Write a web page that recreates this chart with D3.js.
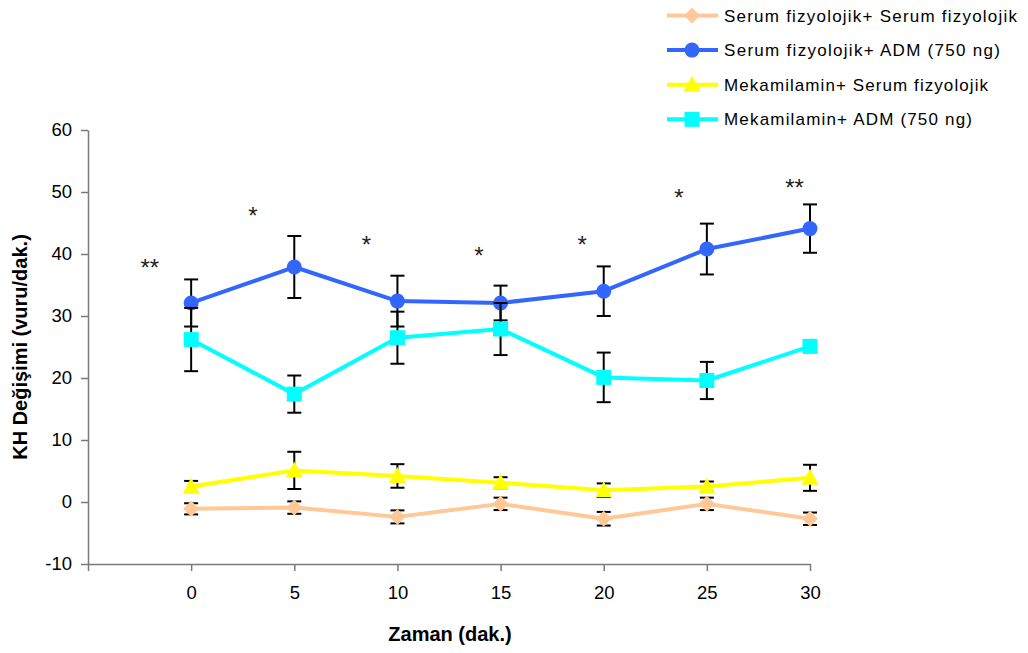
<!DOCTYPE html>
<html>
<head>
<meta charset="utf-8">
<script src="https://cdn.jsdelivr.net/npm/d3@7"></script>
<style>
  body { margin: 0; background: #fff; }
  svg { display: block; font-family: "Liberation Sans", Arial, sans-serif; }
</style>
</head>
<body>
<svg id="chart" width="1028" height="653"></svg>
<script>
// Time points (minutes)
const times = [0, 5, 10, 15, 20, 25, 30];

// Mean heart-rate change per group (beats/min) and SEM
const seriesNames = [
  "Serum fizyolojik+ Serum fizyolojik",
  "Serum fizyolojik+ ADM (750 ng)",
  "Mekamilamin+ Serum fizyolojik",
  "Mekamilamin+ ADM (750 ng)"
];
const salineSaline    = [-1.1, -0.9, -2.4, -0.3, -2.7, -0.3, -2.7];
const salineSalineErr = [0.9, 1.0, 1.05, 1.0, 1.1, 1.0, 1.0];
const salineAdm       = [32.1, 37.9, 32.4, 32.1, 34.0, 40.8, 44.1];
const salineAdmErr    = [3.8, 5.0, 4.1, 2.8, 4.0, 4.1, 3.9];
const mecaSaline      = [2.5, 5.1, 4.2, 3.1, 1.9, 2.5, 3.9];
const mecaSalineErr   = [0.9, 3.0, 1.9, 0.9, 1.1, 0.8, 2.1];
const mecaAdm         = [26.2, 17.4, 26.5, 27.9, 20.1, 19.6, 25.1];
const mecaAdmErr      = [5.1, 3.0, 4.2, 4.2, 4.0, 3.0, 0.8];

// Significance marks placed above the curves
const sigLabels = ["**", "*", "*", "*", "*", "*", "**"];
const sigX      = [-2.0, 3.0, 8.5, 13.95, 18.95, 23.65, 29.25];
const sigY      = [38.6, 46.9, 42.3, 40.5, 42.3, 49.8, 51.5];

// Axis ticks
const yTicks = [-10, 0, 10, 20, 30, 40, 50, 60];
const xTicks = [-5, 0, 5, 10, 15, 20, 25, 30];

const yTitle = "KH Değişimi (vuru/dak.)";
const xTitle = "Zaman (dak.)";

const groups = [
  { name: seriesNames[0], values: salineSaline, err: salineSalineErr, color: "#FFC896", shape: "diamond" },
  { name: seriesNames[1], values: salineAdm,    err: salineAdmErr,    color: "#3366FF", shape: "circle" },
  { name: seriesNames[2], values: mecaSaline,   err: mecaSalineErr,   color: "#FFFF00", shape: "triangle" },
  { name: seriesNames[3], values: mecaAdm,      err: mecaAdmErr,      color: "#00FFFF", shape: "square" }
];

const svg = d3.select("#chart");
const x = d3.scaleLinear().domain([-5, 30]).range([88, 810]);
const y = d3.scaleLinear().domain([-10, 60]).range([564, 130]);

const axisColor = "#7a7a7a";

// Y axis
const yAxis = svg.append("g")
  .attr("transform", `translate(${x(-5)},0)`)
  .call(d3.axisLeft(y).tickValues(yTicks).tickSize(7).tickPadding(9).tickSizeOuter(0)
    .tickFormat(d => String(d)));
yAxis.select(".domain").attr("stroke", axisColor).attr("stroke-width", 1.5);
yAxis.selectAll(".tick line").attr("stroke", axisColor).attr("stroke-width", 1.5);
yAxis.selectAll("text").attr("font-size", 18.5).attr("fill", "#000")
  .attr("font-family", "Liberation Sans, Arial, sans-serif");

// X axis along the bottom of the value range
const xAxis = svg.append("g")
  .attr("transform", `translate(0,${y(-10)})`)
  .call(d3.axisBottom(x).tickValues(xTicks).tickSize(7).tickPadding(15).tickSizeOuter(0)
    .tickFormat(d => d < 0 ? "" : String(d)));
xAxis.select(".domain").attr("stroke", axisColor).attr("stroke-width", 1.5);
xAxis.selectAll(".tick line").attr("stroke", axisColor).attr("stroke-width", 1.5);
xAxis.selectAll("text").attr("font-size", 18.5).attr("fill", "#000")
  .attr("font-family", "Liberation Sans, Arial, sans-serif");

// Axis titles
svg.append("text")
  .attr("transform", `translate(27,${(y(60) + y(-10)) / 2}) rotate(-90)`)
  .attr("text-anchor", "middle")
  .attr("font-size", 20).attr("font-weight", "bold")
  .text(yTitle);

svg.append("text")
  .attr("x", (x(-5) + x(30)) / 2 + 1)
  .attr("y", 641)
  .attr("text-anchor", "middle")
  .attr("font-size", 20).attr("font-weight", "bold")
  .text(xTitle);

// Marker shapes
function markerPath(shape) {
  switch (shape) {
    case "diamond":  return "M0,-8L8,0L0,8L-8,0Z";
    case "triangle": return "M0,-9L8.5,7L-8.5,7Z";
    case "square":   return "M-7.5,-7.5H7.5V7.5H-7.5Z";
    default:         return null;
  }
}
function drawMarker(g, shape, color, cx, cy) {
  if (shape === "circle") {
    g.append("circle").attr("cx", cx).attr("cy", cy).attr("r", 7.5).attr("fill", color);
  } else {
    g.append("path").attr("d", markerPath(shape))
      .attr("transform", `translate(${cx},${cy})`).attr("fill", color);
  }
}

const line = d3.line().x((d, i) => x(times[i])).y(d => y(d));
const capW = 7;

groups.forEach(grp => {
  const g = svg.append("g");
  // Error bars
  grp.values.forEach((v, i) => {
    const cx = x(times[i]);
    const top = y(v + grp.err[i]);
    const bot = y(v - grp.err[i]);
    g.append("line").attr("x1", cx).attr("x2", cx).attr("y1", top).attr("y2", bot)
      .attr("stroke", "#000").attr("stroke-width", 2);
    [top, bot].forEach(yy => {
      g.append("line").attr("x1", cx - capW).attr("x2", cx + capW).attr("y1", yy).attr("y2", yy)
        .attr("stroke", "#000").attr("stroke-width", 2);
    });
  });
  // Series line
  g.append("path").datum(grp.values).attr("d", line)
    .attr("fill", "none").attr("stroke", grp.color).attr("stroke-width", 4)
    .attr("stroke-linejoin", "round");
  // Markers
  grp.values.forEach((v, i) => drawMarker(g, grp.shape, grp.color, x(times[i]), y(v)));
});

// Significance asterisks
const sigFont = 24;
sigLabels.forEach((s, i) => {
  svg.append("text")
    .attr("x", x(sigX[i])).attr("y", y(sigY[i]) + sigFont * 0.55)
    .attr("text-anchor", "middle")
    .attr("font-size", sigFont).attr("fill", "#222")
    .text(s);
});

// Legend
const legendWidths = [293, 276, 264, 248];
const legend = svg.append("g");
groups.forEach((grp, i) => {
  const ly = 15.5 + i * 34.6;
  const lg = legend.append("g");
  lg.append("line").attr("x1", 667).attr("x2", 718).attr("y1", ly).attr("y2", ly)
    .attr("stroke", grp.color).attr("stroke-width", 4);
  drawMarker(lg, grp.shape, grp.color, 692, ly);
  lg.append("text").attr("x", 724).attr("y", ly + 6)
    .attr("font-size", 17).attr("fill", "#000")
    .attr("textLength", legendWidths[i]).attr("lengthAdjust", "spacing")
    .text(grp.name);
});
</script>
</body>
</html>
